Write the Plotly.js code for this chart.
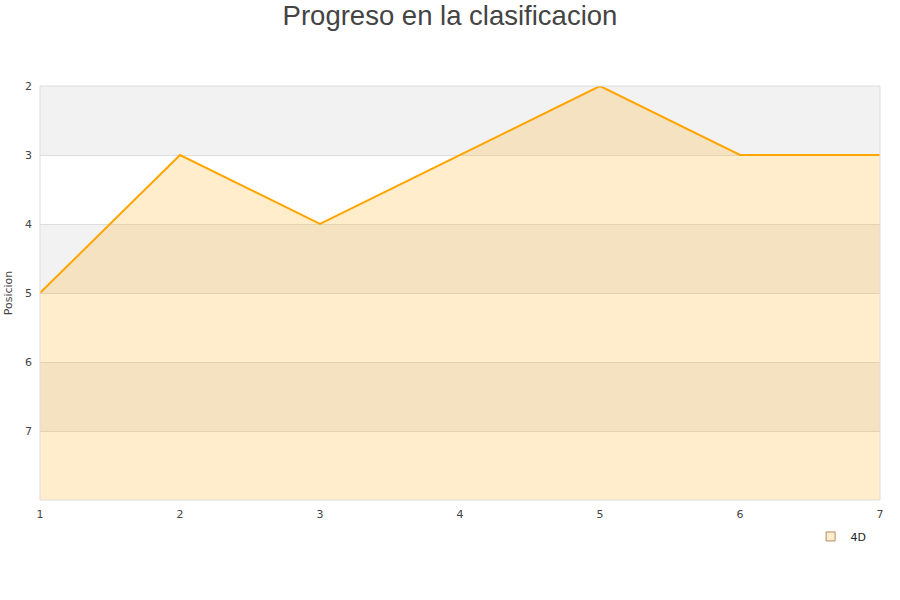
<!DOCTYPE html>
<html>
<head>
<meta charset="utf-8">
<script src="https://cdn.plot.ly/plotly-3.0.1.min.js"></script>
<style>html,body{margin:0;padding:0;background:#fff}#chart{width:900px;height:600px}</style>
</head>
<body>
<div id="chart"></div>
<script>
const jornadas = [1, 2, 3, 4, 5, 6, 7];
const posiciones = [5, 3, 4, 3, 2, 3, 3];
const equipo = "4D";
const fondoPosicion = 8;
const bandas = [[2, 3], [4, 5], [6, 7]];

const baseline = jornadas.map(() => fondoPosicion);

const traces = [
  {x: jornadas, y: baseline, mode: 'lines', line: {width: 0}, showlegend: false, hoverinfo: 'skip'},
  {x: jornadas, y: posiciones, mode: 'lines', fill: 'tonexty', fillcolor: 'rgba(255,165,0,0.2)',
   line: {color: '#ffa500', width: 2}, name: equipo, showlegend: false},
  {x: [null], y: [null], mode: 'markers', name: equipo,
   marker: {symbol: 'square', size: 9, color: '#ffedcc', line: {color: '#b08a60', width: 1}}}
];

const shapes = bandas.map(b => ({type: 'rect', xref: 'paper', yref: 'y', x0: 0, x1: 1, y0: b[0], y1: b[1],
  fillcolor: '#f2f2f2', line: {width: 0}, layer: 'below'}));
shapes.push({type: 'rect', xref: 'paper', yref: 'paper', x0: 0, x1: 1, y0: 0, y1: 1,
  line: {color: '#dddddd', width: 1}, fillcolor: 'rgba(0,0,0,0)', layer: 'above'});

const layout = {
  width: 900, height: 600,
  margin: {l: 40, r: 20, t: 86, b: 100},
  paper_bgcolor: '#fff', plot_bgcolor: '#fff',
  title: {text: 'Progreso en la clasificacion', font: {family: 'Liberation Sans, Arial', size: 27.5, color: '#444'},
    x: 0.5, xanchor: 'center', y: 0.99, yanchor: 'top'},
  xaxis: {range: [1, 7], tickvals: jornadas, showgrid: false, zeroline: false, showline: false,
    tickfont: {family: 'DejaVu Sans', size: 11, color: '#444'}, ticks: '', ticklabelstandoff: 6},
  yaxis: {range: [8, 2], autorange: false, tickvals: [2, 3, 4, 5, 6, 7], showgrid: true, gridcolor: '#dddddd',
    zeroline: false, showline: false, ticks: '', ticklabelstandoff: 7,
    tickfont: {family: 'DejaVu Sans', size: 11, color: '#444'},
    title: {text: 'Posicion', font: {family: 'DejaVu Sans', size: 11, color: '#444'}, standoff: 10}},
  shapes: shapes,
  showlegend: true,
  legend: {x: 0.99, xanchor: 'right', y: -0.053, yanchor: 'top', bgcolor: 'rgba(0,0,0,0)', itemwidth: 30,
    font: {family: 'DejaVu Sans', size: 11, color: '#222'}}
};

Plotly.newPlot('chart', traces, layout, {displayModeBar: false, staticPlot: true});
</script>
</body>
</html>
